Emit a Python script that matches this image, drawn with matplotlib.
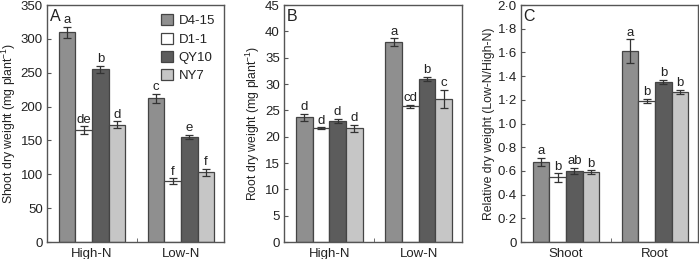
import matplotlib
matplotlib.use("Agg")
import matplotlib.pyplot as plt
import numpy as np
from matplotlib.ticker import FuncFormatter, MultipleLocator, FixedLocator

plt.rcParams['font.family'] = ['Liberation Sans', 'DejaVu Sans']
plt.rcParams['mathtext.default'] = 'regular'

genotypes = ['D4-15', 'D1-1', 'QY10', 'NY7']
colors = ['#8f8f8f', '#ffffff', '#5c5c5c', '#c6c6c6']

groups_ab = ['High-N', 'Low-N']
groups_c = ['Shoot', 'Root']

# Panel A: shoot dry weight (rows = genotypes, cols = groups)
shoot = [[310, 212], [165, 90], [255, 155], [173, 103]]
shoot_err = [[8, 7], [6, 4], [5, 3], [5, 5]]
shoot_let = [['a', 'c'], ['de', 'f'], ['b', 'e'], ['d', 'f']]

# Panel B: root dry weight
root = [[23.7, 38.0], [21.6, 25.8], [23.0, 31.0], [21.6, 27.2]]
root_err = [[0.7, 0.7], [0.2, 0.3], [0.4, 0.4], [0.7, 1.7]]
root_let = [['d', 'a'], ['d', 'cd'], ['d', 'b'], ['d', 'c']]

# Panel C: relative dry weight
rel = [[0.675, 1.61], [0.545, 1.19], [0.60, 1.35], [0.59, 1.265]]
rel_err = [[0.035, 0.10], [0.035, 0.02], [0.025, 0.02], [0.015, 0.02]]
rel_let = [['a', 'a'], ['b', 'b'], ['ab', 'b'], ['b', 'b']]

fig = plt.figure(figsize=(6.99, 2.59), dpi=100)
bottom = 0.0656
height = 0.915
axA = fig.add_axes([47/699, bottom, 177/699, height])
axB = fig.add_axes([284/699, bottom, 178/699, height])
axC = fig.add_axes([521/699, bottom, 177/699, height])

bw = 0.186
offsets = (np.arange(4) - 1.5) * bw
edge = '#444444'


def panel(ax, vals, errs, lets, groups, ylim, ystep, ylabel, letter, fmt=None):
    x = np.arange(len(groups))
    for i in range(4):
        ax.bar(x + offsets[i], vals[i], bw, color=colors[i], edgecolor=edge,
               linewidth=0.9, label=genotypes[i], zorder=2)
        ax.errorbar(x + offsets[i], vals[i], yerr=errs[i], fmt='none',
                    ecolor='#333333', elinewidth=0.9, capsize=3.2, capthick=0.9, zorder=3)
        for j in range(len(groups)):
            ax.annotate(lets[i][j], (x[j] + offsets[i], vals[i][j] + errs[i][j]),
                        xytext=(0, 0.5), textcoords='offset points',
                        ha='center', va='bottom', fontsize=9.5, color='#222222')
    ax.set_xlim(-0.506, 1.483)
    ax.set_ylim(0, ylim)
    ax.yaxis.set_major_locator(MultipleLocator(ystep))
    if fmt:
        ax.yaxis.set_major_formatter(FuncFormatter(fmt))
    ax.set_xticks(x)
    ax.set_xticklabels(groups, fontsize=9.5)
    ax.xaxis.set_minor_locator(FixedLocator([0.5]))
    ax.tick_params(axis='x', which='major', length=0, pad=4, colors='#222222')
    ax.tick_params(axis='x', which='minor', direction='in', length=3, color='#555555')
    ax.tick_params(axis='y', direction='in', length=3, labelsize=9.5, color='#555555',
                   labelcolor='#222222', pad=3)
    for s in ax.spines.values():
        s.set_color('#555555')
        s.set_linewidth(1.0)
    ax.set_ylabel(ylabel, fontsize=8.8, color='#222222', labelpad=2)
    ax.text(0.015, 0.985, letter, transform=ax.transAxes, ha='left', va='top',
            fontsize=11.5, color='#222222')


panel(axA, shoot, shoot_err, shoot_let, groups_ab, 350, 50,
      r'Shoot dry weight (mg plant$^{-1}$)', 'A')
panel(axB, root, root_err, root_let, groups_ab, 45, 5,
      r'Root dry weight (mg plant$^{-1}$)', 'B')
panel(axC, rel, rel_err, rel_let, groups_c, 2.0, 0.2,
      'Relative dry weight (Low-N/High-N)', 'C',
      fmt=lambda v, p: '0' if abs(v) < 1e-9 else f'{v:.1f}'.replace('.', '\u00b7'))

leg = axA.legend(loc='upper right', frameon=False, fontsize=9.5, handlelength=0.9,
                 handleheight=0.9, handletextpad=0.4, labelspacing=0.4,
                 borderaxespad=0.3)
for t in leg.get_texts():
    t.set_color('#222222')

fig.savefig('out.png', dpi=100)
